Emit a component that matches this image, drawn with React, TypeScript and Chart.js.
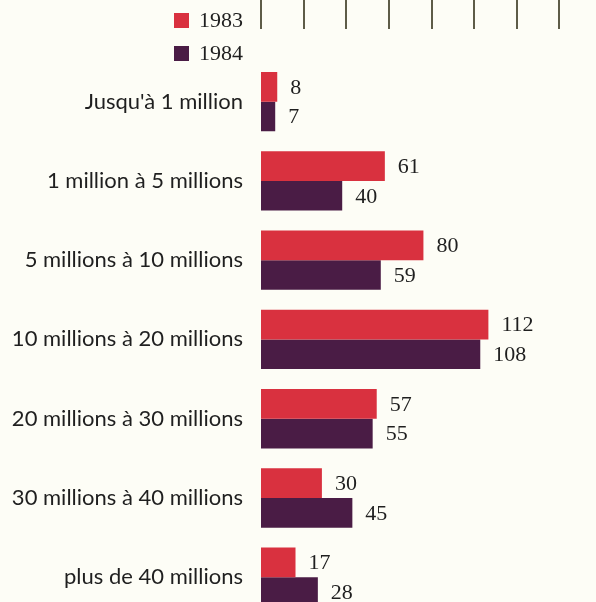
import React, { useEffect, useRef } from "react";
import { Chart, registerables } from "chart.js";

Chart.register(...registerables);

const categories = [
  "Jusqu'à 1 million",
  "1 million à 5 millions",
  "5 millions à 10 millions",
  "10 millions à 20 millions",
  "20 millions à 30 millions",
  "30 millions à 40 millions",
  "plus de 40 millions",
];
const seriesLabels = ["1983", "1984"];
const values1983 = [8, 61, 80, 112, 57, 30, 17];
const values1984 = [7, 40, 59, 108, 55, 45, 28];
const xMax = 165;
const tickStep = 21;

const RED = "#d9313f";
const PURPLE = "#4a1c45";
const BG = "#fdfdf6";
const TEXT = "#1f1f1f";

const valueLabels = {
  id: "valueLabels",
  afterDatasetsDraw(chart: any) {
    const ctx = chart.ctx;
    ctx.save();
    ctx.font = '22px "Liberation Serif"';
    ctx.fillStyle = TEXT;
    ctx.textBaseline = "middle";
    ctx.textAlign = "left";
    chart.data.datasets.forEach((ds: any, i: number) => {
      const meta = chart.getDatasetMeta(i);
      meta.data.forEach((bar: any, j: number) => {
        ctx.fillText(String(ds.data[j]), bar.x + 13, bar.y + 1);
      });
    });
    ctx.restore();
  },
};

const topTicks = {
  id: "topTicks",
  afterDraw(chart: any) {
    const ctx = chart.ctx;
    const scale = chart.scales.x;
    ctx.save();
    ctx.strokeStyle = "#5e5c48";
    ctx.lineWidth = 2;
    for (let v = 0; v <= xMax; v += tickStep) {
      const x = Math.round(scale.getPixelForValue(v));
      ctx.beginPath();
      ctx.moveTo(x, 0);
      ctx.lineTo(x, 29);
      ctx.stroke();
    }
    ctx.restore();
  },
};

const legendPlugin = {
  id: "legendBoxes",
  afterDraw(chart: any) {
    const ctx = chart.ctx;
    ctx.save();
    ctx.font = '22px "Liberation Serif"';
    ctx.textBaseline = "middle";
    ctx.textAlign = "left";
    chart.data.datasets.forEach((ds: any, i: number) => {
      const y = 13 + i * 33;
      ctx.fillStyle = ds.backgroundColor;
      ctx.fillRect(174, y, 15, 15);
      ctx.fillStyle = TEXT;
      ctx.fillText(ds.label, 199, y + 8);
    });
    ctx.restore();
  },
};

export default function App() {
  const ref = useRef<HTMLCanvasElement>(null);
  useEffect(() => {
    if (!ref.current) return;
    const chart = new Chart(ref.current, {
      type: "bar",
      data: {
        labels: categories,
        datasets: [
          { label: seriesLabels[0], data: values1983, backgroundColor: RED },
          { label: seriesLabels[1], data: values1984, backgroundColor: PURPLE },
        ],
      },
      options: {
        indexAxis: "y",
        responsive: false,
        animation: false,
        devicePixelRatio: 1,
        layout: { padding: { top: 62, bottom: 18, left: 0, right: 0 } },
        datasets: {
          bar: { categoryPercentage: 0.75, barPercentage: 1.0, borderWidth: 0 },
        },
        plugins: {
          legend: { display: false },
          tooltip: { enabled: false },
        },
        scales: {
          x: {
            display: false,
            min: 0,
            max: xMax,
          },
          y: {
            grid: { display: false },
            border: { display: false },
            ticks: {
              padding: 10,
              color: TEXT,
              font: { family: "Lato", size: 22 },
            },
            afterFit: (scale: any) => {
              scale.width = 261;
            },
          },
        },
      },
      plugins: [valueLabels, topTicks, legendPlugin],
    } as any);
    return () => chart.destroy();
  }, []);
  return (
    <div
      style={{
        position: "fixed",
        left: 0,
        top: 0,
        width: 596,
        height: 602,
        overflow: "hidden",
        background: BG,
      }}
    >
      <canvas ref={ref} width={596} height={640} style={{ width: 596, height: 640 }} />
    </div>
  );
}
